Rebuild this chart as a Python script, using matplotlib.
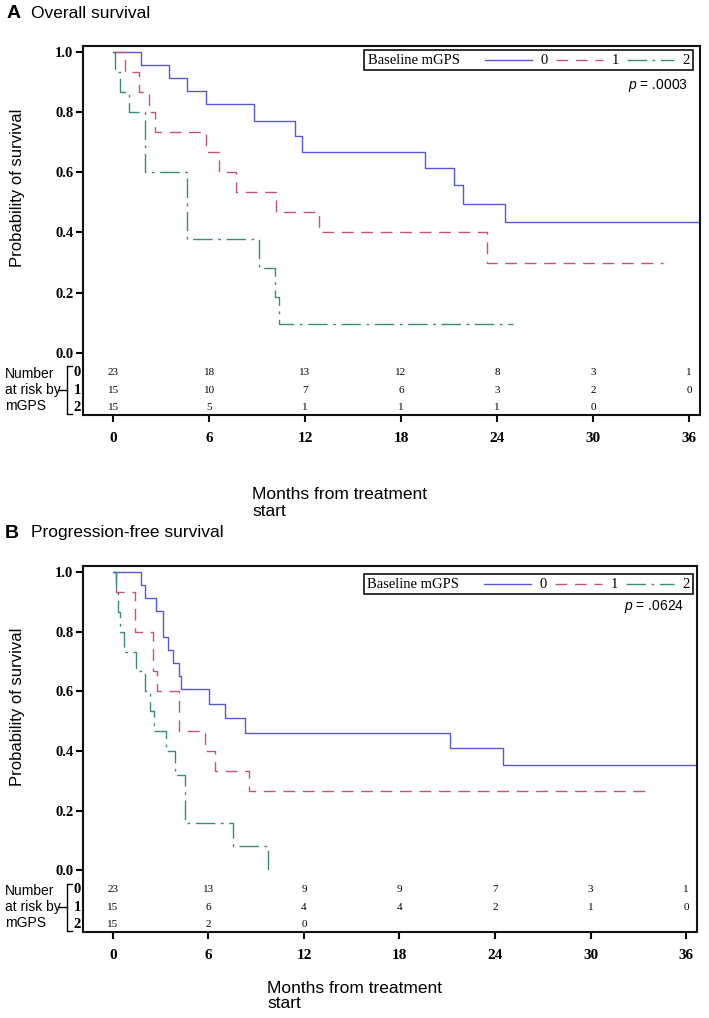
import matplotlib
matplotlib.use("Agg")
import matplotlib.pyplot as plt
from matplotlib.lines import Line2D
from matplotlib.offsetbox import AnchoredOffsetbox, HPacker, TextArea, DrawingArea

plt.rcParams['font.family'] = ['Liberation Sans', 'DejaVu Sans']
plt.rcParams['mathtext.fontset'] = 'custom'
plt.rcParams['mathtext.it'] = 'Liberation Sans:italic'
plt.rcParams['mathtext.rm'] = 'Liberation Sans'

SERIF = 'Liberation Serif'

# ---- data ----
groups = ['0', '1', '2']
risk_times = [0, 6, 12, 18, 24, 30, 36]

# overall survival (panel A)
os_t0 = [0, 1.75, 3.52, 4.6, 5.8, 8.8, 11.4, 11.8, 19.5, 21.3, 21.9, 24.5]
os_s0 = [1.0, 0.957, 0.913, 0.870, 0.826, 0.772, 0.721, 0.669, 0.613, 0.558, 0.496, 0.434]
os_t1 = [0, 0.75, 1.65, 2.25, 2.65, 5.8, 6.6, 7.7, 10.2, 12.9, 23.4]
os_s1 = [1.0, 0.933, 0.867, 0.80, 0.733, 0.667, 0.60, 0.533, 0.467, 0.40, 0.30]
os_t2 = [0, 0.13, 0.44, 1.0, 2.0, 4.6, 9.1, 10.1, 10.4]
os_s2 = [1.0, 0.933, 0.867, 0.80, 0.60, 0.377, 0.281, 0.187, 0.094]
os_end = [37.0, 34.4, 25.0]
os_risk0 = [23, 18, 13, 12, 8, 3, 1]
os_risk1 = [15, 10, 7, 6, 3, 2, 0]
os_risk2 = [15, 5, 1, 1, 1, 0]
os_p = '.0003'

# progression-free survival (panel B)
pfs_t0 = [0, 1.75, 2.0, 2.72, 3.12, 3.48, 3.78, 4.12, 4.28, 6.04, 7.04, 8.3, 21.2, 24.5]
pfs_s0 = [1.0, 0.957, 0.913, 0.870, 0.783, 0.739, 0.696, 0.652, 0.609, 0.559, 0.512, 0.460, 0.410, 0.352]
pfs_t1 = [0, 0.2, 1.4, 2.5, 2.75, 4.15, 5.8, 6.4, 8.57]
pfs_s1 = [1.0, 0.933, 0.80, 0.667, 0.60, 0.467, 0.40, 0.333, 0.267]
pfs_t2 = [0, 0.2, 0.3, 0.45, 0.69, 1.42, 2.0, 2.33, 2.6, 3.31, 3.9, 4.53, 7.57, 9.77]
pfs_s2 = [1.0, 0.933, 0.867, 0.80, 0.733, 0.667, 0.60, 0.533, 0.467, 0.40, 0.32, 0.16, 0.08, 0.0]
pfs_end = [37.0, 33.7, 9.77]
pfs_risk0 = [23, 13, 9, 9, 7, 3, 1]
pfs_risk1 = [15, 6, 4, 4, 2, 1, 0]
pfs_risk2 = [15, 2, 0]
pfs_p = '.0624'

colors = ['#5858d4', '#c4566f', '#3a8a76']
styles = ['-', (0, (8.5, 5.5)), (0, (14, 4, 2, 4))]
row_y = [-0.066, -0.124, -0.182]

W, H = 709, 1018
fig = plt.figure(figsize=(W / 100, H / 100), dpi=100)


def px_axes(l, t, r, b):
    return fig.add_axes([l / W, 1 - b / H, (r - l) / W, (b - t) / H])


def make_legend(ax, x, y):
    kids = [TextArea('Baseline mGPS', textprops=dict(family=SERIF, size=10.5))]
    kids.append(DrawingArea(6, 8))
    for g, c, ls in zip(groups, colors, styles):
        da = DrawingArea(34, 8)
        da.add_artist(Line2D([0, 34], [4, 4], color=c, lw=1.0, ls=ls))
        kids.append(da)
        kids.append(TextArea(g, textprops=dict(family=SERIF, size=10.5)))
    box = HPacker(children=kids, align='center', pad=0, sep=6)
    anc = AnchoredOffsetbox(loc='upper right', child=box, pad=0.25, borderpad=0,
                            frameon=True, bbox_to_anchor=(x, y),
                            bbox_transform=ax.transAxes)
    anc.patch.set_linewidth(1.3)
    anc.patch.set_edgecolor('#222222')
    ax.add_artist(anc)


def draw_panel(box, times, surv, ends, risks, pval, leg_xy, p_xy):
    ax = px_axes(*box)
    for t, s, e, c, ls in zip(times, surv, ends, colors, styles):
        ax.step(t + [e], s + [s[-1]], where='post', color=c, lw=1.0, ls=ls)
    ax.set_xlim(-1.88, 36.69)
    ax.set_ylim(-0.207, 1.02)
    ax.set_xticks(risk_times)
    ax.set_yticks([0.0, 0.2, 0.4, 0.6, 0.8, 1.0])
    ax.set_yticklabels(['%.1f' % v for v in [0.0, 0.2, 0.4, 0.6, 0.8, 1.0]])
    for lab in ax.get_xticklabels():
        lab.set_fontfamily(SERIF)
        lab.set_fontweight('bold')
        lab.set_fontsize(11)
    for lab in ax.get_yticklabels():
        lab.set_fontfamily(SERIF)
        lab.set_fontweight('bold')
        lab.set_fontsize(10.5)
    ax.tick_params(axis='x', length=5, width=1.5, pad=7)
    ax.tick_params(axis='y', length=5, width=1.5, pad=2)
    for sp in ax.spines.values():
        sp.set_linewidth(1.5)
        sp.set_color('#111111')

    # number at risk
    for r, row in enumerate(risks):
        for t, n in zip(risk_times, row):
            ax.text(t, row_y[r], str(n), ha='center', va='center',
                    family=SERIF, size=8)
    tr = ax.get_yaxis_transform()
    for r, g in enumerate(groups):
        ax.text(-0.0095, row_y[r], g, transform=tr, ha='center', va='center',
                family=SERIF, size=10.5, fontweight='bold')
    ax.plot([-0.018, -0.026, -0.026, -0.018], [-0.045, -0.045, -0.203, -0.203],
            transform=tr, color='black', lw=1.0, clip_on=False)
    ax.plot([-0.026, -0.040], [row_y[1], row_y[1]], transform=tr,
            color='black', lw=1.0, clip_on=False)
    ax.text(-0.127, row_y[1], 'Number\nat risk by\nmGPS', transform=tr,
            ha='left', va='center', size=10, linespacing=1.2)

    ax.text(p_xy[0], p_xy[1], r'$p$ = ' + pval, transform=ax.transAxes,
            ha='right', va='center', size=10)
    make_legend(ax, *leg_xy)
    return ax


draw_panel((83, 46, 700, 415), [os_t0, os_t1, os_t2], [os_s0, os_s1, os_s2], os_end,
           [os_risk0, os_risk1, os_risk2], os_p, (0.989, 0.989), (0.9805, 0.892))
draw_panel((83, 566, 697, 932), [pfs_t0, pfs_t1, pfs_t2], [pfs_s0, pfs_s1, pfs_s2], pfs_end,
           [pfs_risk0, pfs_risk1, pfs_risk2], pfs_p, (0.993, 0.978), (0.980, 0.889))

# titles, axis labels
fig.text(7 / W, 1 - 13 / H, 'A', size=14, fontweight='bold', va='center')
fig.text(31 / W, 1 - 13 / H, 'Overall survival', size=12.5, va='center')
fig.text(5 / W, 1 - 533 / H, 'B', size=14, fontweight='bold', va='center')
fig.text(31 / W, 1 - 533 / H, 'Progression-free survival', size=12.5, va='center')

fig.text(18 / W, 1 - 188 / H, 'Probability of survival', rotation=90,
         ha='center', va='center', size=12)
fig.text(18 / W, 1 - 707 / H, 'Probability of survival', rotation=90,
         ha='center', va='center', size=12)

fig.text(252 / W, 1 - 487 / H, 'Months from treatment\nstart', ha='left', va='top',
         size=12.5, linespacing=1.15)
fig.text(267 / W, 1 - 981 / H, 'Months from treatment\nstart', ha='left', va='top',
         size=12.5, linespacing=1.0)

fig.savefig('out.png', dpi=100)
